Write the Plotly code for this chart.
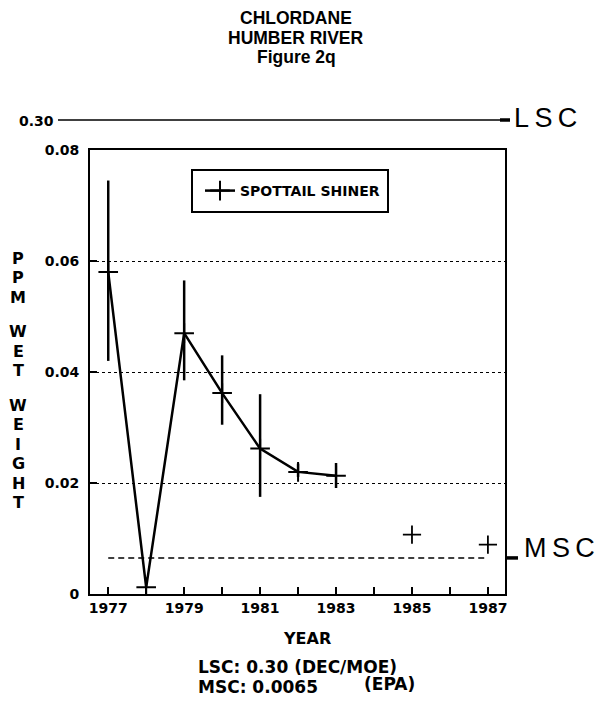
import plotly.graph_objects as go

# ---- data ----
years = [1977, 1978, 1979, 1980, 1981, 1982, 1983]
means = [0.058, 0.0012, 0.047, 0.0362, 0.0262, 0.0220, 0.0213]
upper = [0.0745, 0.0012, 0.0565, 0.0430, 0.0360, 0.0235, 0.0236]
lower = [0.0420, 0.0012, 0.0385, 0.0305, 0.0175, 0.0211, 0.0191]

extra_years = [1985, 1987]
extra_vals = [0.0107, 0.0089]

msc_value = 0.0065
lsc_value = 0.30
msc_span = [1977, 1987]

ytick_vals = [0, 0.02, 0.04, 0.06, 0.08]
ytick_text = ["0", "0.02", "0.04", "0.06", "0.08"]

title_lines = ["CHLORDANE", "HUMBER RIVER", "Figure 2q"]
ytitle_words = ["PPM", "WET", "WEIGHT"]

err_plus = [u - m for u, m in zip(upper, means)]
err_minus = [m - l for m, l in zip(means, lower)]

FAM = "DejaVu Sans"
fig = go.Figure()

fig.add_trace(go.Scatter(
    x=years, y=means, mode="lines+markers", name="SPOTTAIL SHINER",
    line=dict(color="black", width=2.5),
    marker=dict(symbol="cross-thin", size=14, line=dict(color="black", width=2)),
    error_y=dict(type="data", symmetric=False, array=err_plus, arrayminus=err_minus,
                 color="black", thickness=2.5, width=0),
))
fig.add_trace(go.Scatter(
    x=extra_years, y=extra_vals, mode="markers", showlegend=False,
    marker=dict(symbol="cross-thin", size=13, line=dict(color="black", width=1.8)),
))
fig.add_trace(go.Scatter(
    x=msc_span, y=[msc_value, msc_value], mode="lines", showlegend=False,
    line=dict(color="black", width=1.6, dash="6px,4px"),
))

def px(v):  # screen px -> paper x
    return (v - 90) / 415.0

def py(v):  # screen px -> paper y
    return (594 - v) / 444.0

shapes = [
    dict(type="rect", xref="paper", yref="paper", x0=px(192), x1=px(388), y0=py(212), y1=py(170),
         line=dict(color="black", width=2)),
    dict(type="line", xref="paper", yref="paper", x0=px(58), x1=px(500), y0=py(120), y1=py(120),
         line=dict(color="black", width=1.6)),
    dict(type="line", xref="paper", yref="paper", x0=px(500), x1=px(510), y0=py(120), y1=py(120),
         line=dict(color="black", width=3.5)),
    dict(type="line", xref="paper", yref="y", x0=1.0, x1=px(518), y0=msc_value, y1=msc_value,
         line=dict(color="black", width=3.5)),
]

def ann(text, x, y, size, xanchor="center", family=FAM, weight="bold"):
    return dict(text=text, xref="paper", yref="paper", x=px(x), y=py(y),
                xanchor=xanchor, yanchor="middle", showarrow=False,
                font=dict(family=family, size=size, color="black", weight=weight))

annotations = []
for i, line in enumerate(title_lines):
    annotations.append(ann(line, 296, 18 + i * 19.5, 17.5, family="Liberation Sans"))

annotations += [
    ann("0.30", 56, 121, 14, xanchor="right"),
    ann("L\u2009S\u2009C", 512, 118, 27, xanchor="left", family="Liberation Sans", weight="normal"),
    ann("M\u2009S\u2009C", 522, 548, 27, xanchor="left", family="Liberation Sans", weight="normal"),
    ann("YEAR", 307, 638, 16),
    ann("LSC: 0.30 (DEC/MOE)", 196, 667, 17, xanchor="left"),
    ann("MSC: 0.0065", 196, 687, 17, xanchor="left"),
    ann("(EPA)", 362, 684, 17, xanchor="left"),
]

# vertical stacked y-axis title
ypos = 258
for w, word in enumerate(ytitle_words):
    for ch in word:
        annotations.append(ann(ch, 18, ypos, 16))
        ypos += 19.5
    ypos += 15

fig.update_layout(
    width=602, height=707,
    margin=dict(l=82, r=105, t=142, b=121),
    paper_bgcolor="white", plot_bgcolor="white",
    showlegend=True,
    legend=dict(x=px(200), y=py(191), xanchor="left", yanchor="middle",
                bgcolor="rgba(0,0,0,0)", borderwidth=0,
                font=dict(family=FAM, size=14, color="black", weight="bold")),
    shapes=shapes, annotations=annotations,
    font=dict(family=FAM, color="black"),
)
fig.update_xaxes(
    range=[1976.52, 1987.45], tick0=1977, dtick=2, ticks="inside", ticklen=7,
    tickwidth=1.5, tickcolor="black",
    minor=dict(dtick=1, ticks="inside", ticklen=7, tickwidth=1.5, tickcolor="black"),
    showline=True, linecolor="black", linewidth=2, mirror=True, showgrid=False,
    zeroline=False, tickfont=dict(family=FAM, size=14, color="black", weight="bold"),
)
fig.update_yaxes(
    range=[0, 0.08], tickvals=ytick_vals, ticktext=ytick_text,
    ticks="inside", ticklen=7, tickwidth=1.5, tickcolor="black",
    showline=True, linecolor="black", linewidth=2, mirror=True,
    showgrid=True, gridcolor="black", gridwidth=1, griddash="dot",
    zeroline=False, tickfont=dict(family=FAM, size=14, color="black", weight="bold"),
    ticklabelstandoff=6,
)

fig.write_html("out.html")
